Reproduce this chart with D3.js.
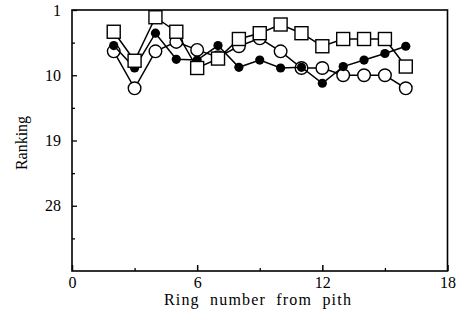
<!DOCTYPE html>
<html><head><meta charset="utf-8">
<script src="https://cdn.jsdelivr.net/npm/d3@7"></script>
<style>body{margin:0;background:#fff}svg{display:block}text{font-family:"Liberation Serif","DejaVu Serif",serif;fill:#000}</style>
</head><body>
<script>
const rings = [2,3,4,5,6,7,8,9,10,11,12,13,14,15,16];
const squareSeries = [4,8,2,4,9,7.7,5,4.2,3,4.2,6,5,5,5,8.8];
const filledSeries = [5.9,9,4.2,7.8,7.9,5.9,8.9,7.9,9,8.9,11.1,8.8,7.9,7,6];
const openSeries   = [6.7,11.8,6.7,5.4,6.5,7.5,6,4.9,6.7,9,9,10,10,10,11.8];
const xTicks = [0,6,12,18];
const xMinor = [3,9,15];
const yTicks = [1,10,19,28];
const yMinor = [5.5,14.5,23.5,32.5];

const W=459,H=323;
const svg=d3.select("body").append("svg").attr("width",W).attr("height",H);
const x=d3.scaleLinear().domain([0,18]).range([72,447.5]);
const y=d3.scaleLinear().domain([1,37]).range([10,271]);

// frame
svg.append("rect").attr("x",x(0)).attr("y",y(1)).attr("width",x(18)-x(0)).attr("height",y(37)-y(1))
  .attr("fill","none").attr("stroke","#000").attr("stroke-width",1.6);

// x axis ticks (inward)
const gx=svg.append("g").attr("transform",`translate(0,${y(37)})`)
  .call(d3.axisBottom(x).tickValues(xTicks).tickSize(-6).tickPadding(6).tickFormat(d3.format("d")));
gx.select(".domain").remove();
gx.selectAll("text").style("font-size","16px");
gx.selectAll("line").attr("stroke-width",1.5);
svg.append("g").attr("transform",`translate(0,${y(37)})`)
  .call(d3.axisBottom(x).tickValues(xMinor).tickSize(-3).tickFormat(""))
  .call(g=>g.select(".domain").remove()).selectAll("line").attr("stroke-width",1.3);

// y axis
const gy=svg.append("g").attr("transform",`translate(${x(0)},0)`)
  .call(d3.axisLeft(y).tickValues(yTicks).tickSize(-5).tickPadding(11).tickFormat(d3.format("d")));
gy.select(".domain").remove();
gy.selectAll("text").style("font-size","16px");
gy.selectAll("line").attr("stroke-width",1.3);
svg.append("g").attr("transform",`translate(${x(0)},0)`)
  .call(d3.axisLeft(y).tickValues(yMinor).tickSize(-3).tickFormat(""))
  .call(g=>g.select(".domain").remove()).selectAll("line").attr("stroke-width",1.3);

// titles
svg.append("text").attr("x",258).attr("y",305).attr("text-anchor","middle").style("font-size","16px")
  .style("letter-spacing","1.2px").style("word-spacing","5px").text("Ring number from pith");
svg.append("text").attr("transform","translate(27,143) rotate(-90)").attr("text-anchor","middle").style("font-size","16px").text("Ranking");

const line=d3.line().x(d=>x(d[0])).y(d=>y(d[1]));
function series(vals){return rings.map((r,i)=>[r,vals[i]]);}

// open circles
const od=series(openSeries);
svg.append("path").attr("d",line(od)).attr("fill","none").attr("stroke","#000").attr("stroke-width",1.5);
svg.selectAll(".oc").data(od).enter().append("circle").attr("cx",d=>x(d[0])).attr("cy",d=>y(d[1])).attr("r",6.3)
  .attr("fill","#fff").attr("stroke","#000").attr("stroke-width",1.4);

// filled circles
const fd=series(filledSeries);
svg.append("path").attr("d",line(fd)).attr("fill","none").attr("stroke","#000").attr("stroke-width",1.5);
svg.selectAll(".fc").data(fd).enter().append("circle").attr("cx",d=>x(d[0])).attr("cy",d=>y(d[1])).attr("r",4.6)
  .attr("fill","#000");

// squares
const sd=series(squareSeries);
svg.append("path").attr("d",line(sd)).attr("fill","none").attr("stroke","#000").attr("stroke-width",1.5);
svg.selectAll(".sq").data(sd).enter().append("rect").attr("x",d=>x(d[0])-6.5).attr("y",d=>y(d[1])-6.5)
  .attr("width",13).attr("height",13).attr("fill","#fff").attr("stroke","#000").attr("stroke-width",1.4);
</script>
</body></html>
